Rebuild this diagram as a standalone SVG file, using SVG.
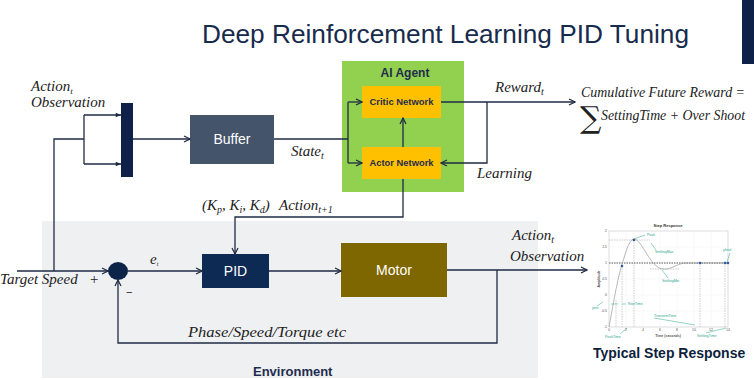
<svg xmlns="http://www.w3.org/2000/svg" width="754" height="380" viewBox="0 0 754 380">
<style>
.ln{fill:none;stroke:#1F2A44;stroke-width:1.3}
.m{font-family:"Liberation Serif","DejaVu Serif",serif;font-style:italic;fill:#222;font-size:15px}
.lbl{font-family:"Liberation Sans",Arial,sans-serif}
.w{fill:#fff;font-size:14px;text-anchor:middle}
.nb{font-family:"Liberation Sans",Arial,sans-serif;font-weight:bold;fill:#1F2D4E}
.g{stroke:#2BA58A;stroke-width:0.5;fill:none}
.gt{font-family:"Liberation Sans",Arial,sans-serif;font-size:3.5px;fill:#2BA58A}
.ax{font-family:"Liberation Sans",Arial,sans-serif;font-size:3.5px;fill:#555}
.dash{stroke:#999;stroke-width:0.5;stroke-dasharray:1.5 1;fill:none}
</style>
<defs>
<marker id="arr" viewBox="0 0 8 8" refX="7" refY="4" markerWidth="8" markerHeight="8" markerUnits="userSpaceOnUse" orient="auto">
<path d="M1,1 L7,4 L1,7" fill="none" stroke="#1F2A44" stroke-width="1.2"/>
</marker>
<marker id="arrf" viewBox="0 0 8 8" refX="7" refY="4" markerWidth="7" markerHeight="7" markerUnits="userSpaceOnUse" orient="auto">
<path d="M1,1.5 L7,4 L1,6.5 Z" fill="#1F2A44"/>
</marker>
</defs>
<rect width="754" height="380" fill="#fff"/>

<g id="title">
<text x="202" y="43" font-family="Liberation Sans,Arial,sans-serif" font-size="26" fill="#172B4D" textLength="487" lengthAdjust="spacingAndGlyphs">Deep Reinforcement Learning PID Tuning</text>
<rect x="742" y="0" width="12" height="64" fill="#0E2148"/>
</g>

<g id="environment">
<rect x="42" y="221" width="496" height="157" fill="#EFF0F2"/>
<text class="nb" x="253" y="376" font-size="13">Environment</text>
</g>

<g id="agent">
<rect x="342" y="61" width="122" height="131" fill="#92D050"/>
<text class="nb" x="405" y="77" font-size="12" text-anchor="middle" fill="#1F3864">AI Agent</text>
</g>
<g id="critic">
<rect x="362" y="86" width="79" height="32" fill="#FFC000"/>
<text class="nb" x="401.5" y="105" font-size="9" text-anchor="middle" fill="#1F2D3D" textLength="64" lengthAdjust="spacingAndGlyphs">Critic Network</text>
</g>
<g id="actor">
<rect x="362" y="147" width="79" height="32" fill="#FFC000"/>
<text class="nb" x="401.5" y="166" font-size="9" text-anchor="middle" fill="#1F2D3D" textLength="64" lengthAdjust="spacingAndGlyphs">Actor Network</text>
</g>
<g id="mux">
<rect x="121" y="103" width="12" height="74" fill="#0E2148"/>
</g>
<g id="buffer">
<rect x="190" y="115" width="84" height="49" fill="#44546A"/>
<text class="lbl w" x="232" y="144">Buffer</text>
</g>
<g id="sum">
<ellipse cx="118" cy="271" rx="10" ry="9" fill="#0C2448"/>
</g>
<g id="pid">
<rect x="202" y="254" width="67" height="34" fill="#0C2A54"/>
<text class="lbl w" x="235.5" y="276" font-size="15">PID</text>
</g>
<g id="motor">
<rect x="341" y="243" width="106" height="54" fill="#7F6700"/>
<text class="lbl w" x="394" y="275" fill="#FFF8E6">Motor</text>
</g>

<g id="connectors">
<path class="ln" d="M54,271 V139 H84"/>
<path class="ln" d="M84,115 V164"/>
<path class="ln" d="M84,115 H121" marker-end="url(#arrf)"/>
<path class="ln" d="M84,164 H121" marker-end="url(#arrf)"/>
<path class="ln" d="M133,139 H190" marker-end="url(#arr)"/>
<path class="ln" d="M274,139 H348"/>
<path class="ln" d="M348,102 V163"/>
<path class="ln" d="M348,102 H362" marker-end="url(#arr)"/>
<path class="ln" d="M348,163 H362" marker-end="url(#arr)"/>
<path class="ln" d="M441,102 H575" marker-end="url(#arr)"/>
<path class="ln" d="M487,102 V163 H441" marker-end="url(#arr)"/>
<path class="ln" d="M403,147 V118" marker-end="url(#arr)"/>
<path class="ln" d="M403,179 V217 H235 V254" marker-end="url(#arr)"/>
<path class="ln" d="M17,271 H108" marker-end="url(#arr)"/>
<path class="ln" d="M128,271 H202" marker-end="url(#arr)"/>
<path class="ln" d="M269,271 H341" marker-end="url(#arr)"/>
<path class="ln" d="M447,270 H587" marker-end="url(#arr)"/>
<path class="ln" d="M497,270 V343 H118 V280" marker-end="url(#arr)"/>
</g>

<g id="labels">
<text class="m" x="31" y="91">Action<tspan font-size="9" dy="2.5">t</tspan></text>
<text class="m" x="31" y="107">Observation</text>
<text class="m" x="291" y="156">State<tspan font-size="10" dy="3">t</tspan></text>
<text class="m" x="495" y="92">Reward<tspan font-size="10" dy="3">t</tspan></text>
<text class="m" x="477" y="178">Learning</text>
<text class="m" x="581" y="97" font-size="12.5" textLength="164" lengthAdjust="spacingAndGlyphs">Cumulative Future Reward =</text>
<text x="580" y="128" font-family="DejaVu Serif,serif" font-size="30" fill="#222">∑</text>
<text class="m" x="601" y="120" font-size="12.5" textLength="144" lengthAdjust="spacingAndGlyphs">SettingTime + Over Shoot</text>
<text class="m" x="202" y="210">(K<tspan font-size="10" dy="3">p</tspan><tspan dy="-3">, K</tspan><tspan font-size="10" dy="3">i</tspan><tspan dy="-3">, K</tspan><tspan font-size="10" dy="3">d</tspan><tspan dy="-3">)</tspan></text>
<text class="m" x="279" y="210">Action<tspan font-size="10" dy="3">t+1</tspan></text>
<text class="m" x="150" y="264" font-size="9">e<tspan font-size="6" dy="2">t</tspan></text>
<text class="m" x="0" y="284">Target Speed<tspan x="89">+</tspan></text>
<text class="lbl" x="126" y="296" font-size="11" fill="#222">−</text>
<text class="m" x="188" y="337" textLength="158" lengthAdjust="spacingAndGlyphs">Phase/Speed/Torque etc</text>
<text class="m" x="512" y="240">Action<tspan font-size="10" dy="3">t</tspan></text>
<text class="m" x="510" y="261">Observation</text>
</g>

<g id="step-response">
<text x="668" y="227" font-family="Liberation Sans,Arial,sans-serif" font-size="4" font-weight="bold" fill="#333" text-anchor="middle">Step Response</text>
<rect x="609" y="231" width="119" height="96" fill="#fff" stroke="#bbb" stroke-width="0.5"/>
<path d="M609,247 H728 M609,263 H728 M609,279 H728 M609,295 H728 M609,311 H728 M626,231 V327 M643,231 V327 M660,231 V327 M677,231 V327 M694,231 V327 M711,231 V327" stroke="#eee" stroke-width="0.4"/>
<path d="M609,263 H728" stroke="#aaa" stroke-width="2.2" stroke-dasharray="1.5 1"/>
<path class="dash" d="M609,240 H650 M650,269 H680 M634,240 V327 M622,266 V327 M616,300 V327 M700,263 V327 M725,263 V327"/>
<path d="M609,327 C614,300 618,275 624,258 C628,244 631,239 634,239 C642,239 650,268 663,269 C671,270 676,264 685,263 L728,263" fill="none" stroke="#999" stroke-width="0.7"/>
<g fill="#2E5C9A"><circle cx="622" cy="266" r="1.3"/><circle cx="634" cy="240" r="1.3"/><circle cx="700" cy="263" r="1.3"/><circle cx="725" cy="263" r="1.3"/><circle cx="728" cy="263" r="1.3"/></g>
<path class="g" d="M634,239 L645,235 M651,243 L656,250 M662,270 L668,278 M727,262 L730,253 M597,306 L603,302 M611,304 L618,304 M626,304 L622,304 M654,318 L695,325 M620,334 L627,328 M706,333 L726,328"/>
<text class="gt" x="647" y="236">Peak</text>
<text class="gt" x="655" y="253">SettlingMax</text>
<text class="gt" x="662" y="282">SettlingMin</text>
<text class="gt" x="723" y="251">yfinal</text>
<text class="gt" x="592" y="309">yinit</text>
<text class="gt" x="628" y="305">RiseTime</text>
<text class="gt" x="654" y="317">TransientTime</text>
<text class="gt" x="605" y="338">PeakTime</text>
<text class="gt" x="697" y="337">SettlingTime</text>
<g class="ax" text-anchor="end"><text x="607" y="232">2</text><text x="607" y="248">1.5</text><text x="607" y="264">1</text><text x="607" y="280">0.5</text><text x="607" y="296">0</text><text x="607" y="312">-0.5</text><text x="607" y="328">-1</text></g>
<g class="ax" text-anchor="middle"><text x="609" y="331">0</text><text x="626" y="331">2</text><text x="643" y="331">4</text><text x="660" y="331">6</text><text x="677" y="331">8</text><text x="694" y="331">10</text><text x="711" y="331">12</text><text x="728" y="331">14</text></g>
<text class="ax" x="668" y="337" text-anchor="middle" font-weight="bold">Time (seconds)</text>
<text class="ax" x="0" y="0" text-anchor="middle" font-weight="bold" transform="translate(600,279) rotate(-90)">Amplitude</text>
<text x="593" y="358" font-family="Liberation Sans,Arial,sans-serif" font-size="14" font-weight="bold" fill="#0E1F3D">Typical Step Response</text>
</g>
</svg>
